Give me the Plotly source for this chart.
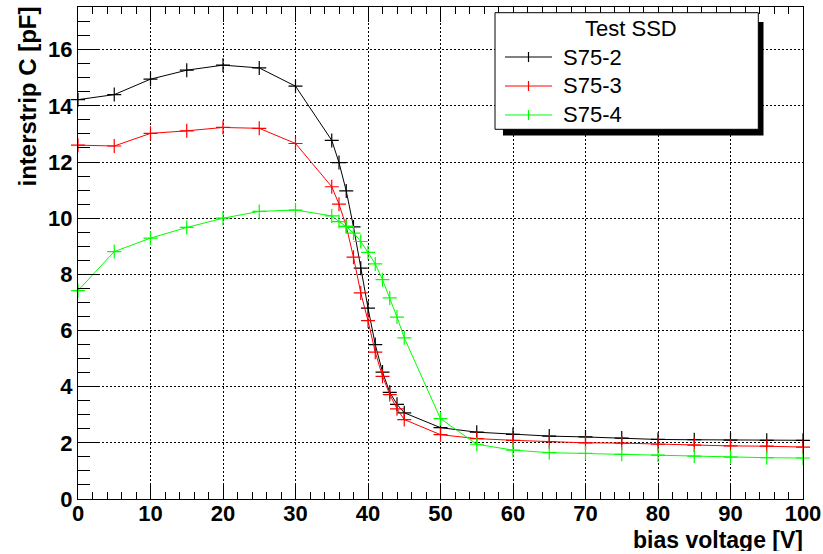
import plotly.graph_objects as go

# ---------------- data ----------------
x_s752 = [0, 5, 10, 15, 20, 25, 30, 35, 36, 37, 38, 39, 40, 41, 42, 43, 44, 45,
          50, 55, 60, 65, 70, 75, 80, 85, 90, 95, 100]
y_s752 = [14.22, 14.40, 14.95, 15.27, 15.45, 15.35, 14.70, 12.77, 11.98, 10.97, 9.69,
          8.22, 6.80, 5.50, 4.52, 3.80, 3.37, 3.07,
          2.54, 2.38, 2.30, 2.24, 2.21, 2.17, 2.12, 2.11, 2.10, 2.09, 2.09]

x_s753 = [0, 5, 10, 15, 20, 25, 30, 35, 36, 37, 38, 39, 40, 41, 42, 43, 44, 45,
          50, 55, 60, 65, 70, 75, 80, 85, 90, 95, 100]
y_s753 = [12.60, 12.57, 13.02, 13.11, 13.23, 13.20, 12.66, 11.12, 10.50, 9.71, 8.61,
          7.34, 6.35, 5.23, 4.37, 3.72, 3.21, 2.83,
          2.29, 2.15, 2.09, 2.04, 2.00, 1.99, 1.95, 1.92, 1.89, 1.88, 1.85]

x_s754 = [0, 5, 10, 15, 20, 25, 30, 35, 36, 37, 38, 39, 40, 41, 42, 43, 44, 45,
          50, 55, 60, 65, 70, 75, 80, 85, 90, 95, 100]
y_s754 = [7.42, 8.81, 9.29, 9.67, 10.00, 10.24, 10.29, 10.08, 9.88, 9.70, 9.47,
          9.17, 8.78, 8.37, 7.81, 7.16, 6.48, 5.74,
          2.86, 1.95, 1.74, 1.65, 1.63, 1.59, 1.56, 1.53, 1.49, 1.47, 1.46]

series_names = ["S75-2", "S75-3", "S75-4"]
series_colors = ["#000000", "#ff0000", "#00ff00"]
legend_title = "Test SSD"
x_title = "bias voltage [V]"
y_title = "interstrip C [pF]"

# ---------------- layout constants ----------------
W, H = 823, 554
ML, MR, MT, MB = 78, 20, 7, 55
PW = W - ML - MR
PH = H - MT - MB


def px(xp):
    return (xp - ML) / PW


def py(yp):
    return (H - MB - yp) / PH


FONT = "Liberation Sans, Arial, Helvetica, sans-serif"

fig = go.Figure()
for xs, ys, name, col in zip([x_s752, x_s753, x_s754], [y_s752, y_s753, y_s754],
                             series_names, series_colors):
    fig.add_trace(go.Scatter(
        x=xs, y=ys, name=name, mode="lines+markers",
        line=dict(color=col, width=1),
        marker=dict(symbol="cross-thin", size=10, line=dict(color=col, width=1.2), color=col),
        showlegend=False, cliponaxis=False,
    ))

axis_common = dict(
    showline=True, linecolor="black", linewidth=1,
    ticks="inside", tickcolor="black", tickwidth=1,
    showgrid=True, gridcolor="black", gridwidth=1, griddash="2px,2px",
    zeroline=False, automargin=False, ticklabeloverflow="allow",
    tickfont=dict(family=FONT, size=22, color="black", weight="bold"),
)

fig.update_layout(
    width=W, height=H,
    margin=dict(l=ML, r=MR, t=MT, b=MB, autoexpand=False),
    paper_bgcolor="white", plot_bgcolor="white",
    xaxis=dict(range=[0, 100], dtick=10, tick0=0, ticklen=15, mirror="ticks",
               ticklabelstandoff=-5,
               minor=dict(dtick=2, ticklen=7, ticks="inside", tickcolor="black", showgrid=False),
               **axis_common),
    yaxis=dict(range=[0, 17.52], dtick=2, tick0=0, ticklen=21, mirror=True,
               minor=dict(dtick=0.5, ticklen=12, ticks="inside", tickcolor="black", showgrid=False),
               **axis_common),
    showlegend=False,
)

shapes = []
annotations = []

# axis titles
annotations.append(dict(text=x_title, xref="paper", yref="paper", x=px(804), y=py(539.5),
                        xanchor="right", yanchor="middle", showarrow=False,
                        height=22, valign="middle", borderpad=0,
                        font=dict(family=FONT, size=23, color="black", weight="bold")))
annotations.append(dict(text=y_title, xref="paper", yref="paper", x=px(27), y=py(96.5),
                        xanchor="center", yanchor="middle", showarrow=False, textangle=-90,
                        font=dict(family=FONT, size=24, color="black", weight="bold")))

# legend: shadow + box
shapes.append(dict(type="rect", xref="paper", yref="paper", layer="above",
                   x0=px(503), x1=px(763.5), y0=py(135.5), y1=py(22),
                   fillcolor="black", line=dict(width=0)))
shapes.append(dict(type="rect", xref="paper", yref="paper", layer="above",
                   x0=px(495), x1=px(758.3), y0=py(129.3), y1=py(12.7),
                   fillcolor="white", line=dict(color="black", width=1)))
annotations.append(dict(text=legend_title, xref="paper", yref="paper", x=px(630.5), y=py(29),
                        xanchor="center", yanchor="middle", showarrow=False,
                        font=dict(family=FONT, size=22, color="black")))
row_y = [57, 86, 115]
for name, col, ry in zip(series_names, series_colors, row_y):
    shapes.append(dict(type="line", xref="paper", yref="paper", layer="above",
                       x0=px(505), x1=px(552), y0=py(ry), y1=py(ry),
                       line=dict(color=col, width=1)))
    shapes.append(dict(type="line", xref="paper", yref="paper", layer="above",
                       x0=px(528.5), x1=px(528.5), y0=py(ry - 5), y1=py(ry + 5),
                       line=dict(color=col, width=1.2)))
    annotations.append(dict(text=name, xref="paper", yref="paper", x=px(561), y=py(ry),
                            xanchor="left", yanchor="middle", showarrow=False,
                            font=dict(family=FONT, size=22, color="black")))

fig.update_layout(shapes=shapes, annotations=annotations)
fig.write_html("out.html")
